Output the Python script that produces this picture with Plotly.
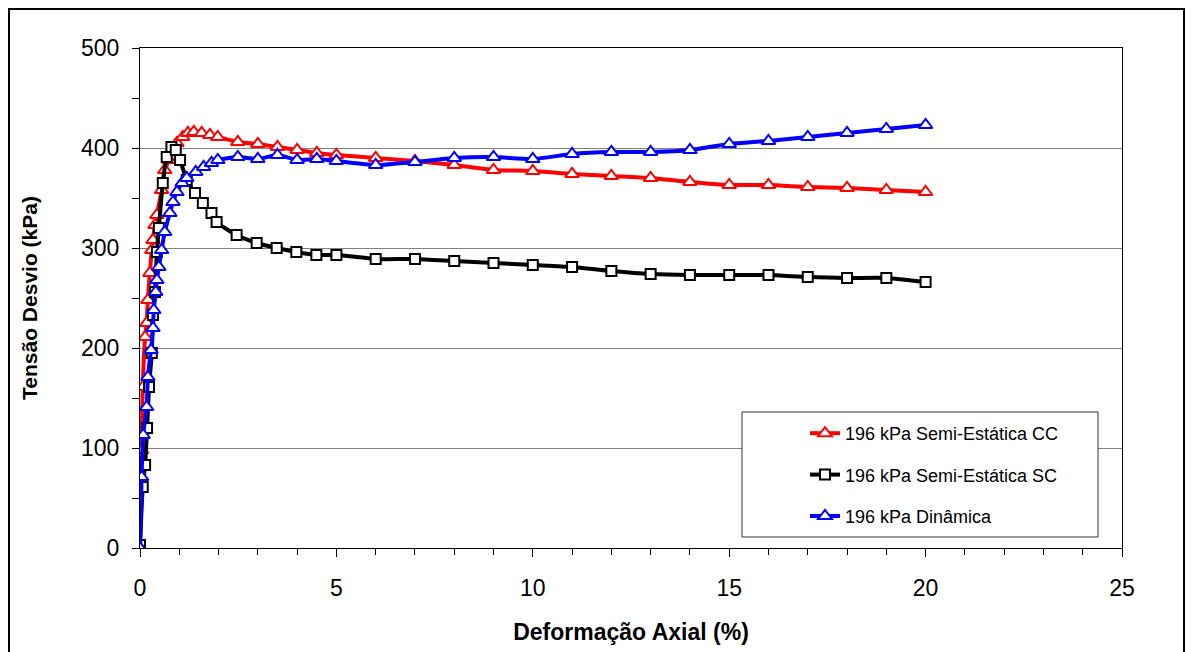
import plotly.graph_objects as go

# ---- data ----
cc_x = [0, 0.04, 0.07, 0.13, 0.17, 0.2, 0.25, 0.3, 0.33, 0.38, 0.43, 0.55, 0.63, 0.74, 0.84, 0.94,
        1.09, 1.22, 1.37, 1.57, 1.78, 1.98, 2.49, 3.0, 3.5, 4.0, 4.5, 5.0, 6, 7, 8, 9, 10, 11, 12,
        13, 14, 15, 16, 17, 18, 19, 20]
cc_y = [0, 98, 161, 211, 225, 248, 275, 298, 308, 323, 333, 358, 378, 388, 398, 405,
        411, 415, 416, 415, 413, 411, 406, 404, 401, 398, 395, 393, 390, 387, 383, 378, 377, 374, 372,
        370, 366, 363, 363, 361, 360, 358, 356]

sc_x = [0, 0.07, 0.13, 0.18, 0.23, 0.3, 0.33, 0.38, 0.43, 0.48, 0.58, 0.68, 0.8, 0.91, 1.02, 1.19,
        1.4, 1.6, 1.82, 1.95, 2.46, 2.97, 3.48, 3.98, 4.49, 5.0, 6, 7, 8, 9, 10, 11, 12, 13, 14,
        15, 16, 17, 18, 19, 20]
sc_y = [3, 61, 83, 120, 161, 195, 233, 256, 296, 320, 365, 391, 401, 398, 388, 368,
        355, 345, 335, 326, 313, 305, 300, 296, 293, 293, 289, 289, 287, 285, 283, 281, 277, 274, 273,
        273, 273, 271, 270, 270, 266]

din_x = [0, 0.04, 0.08, 0.17, 0.2, 0.28, 0.33, 0.35, 0.4, 0.43, 0.48, 0.55, 0.63, 0.76, 0.84, 0.94,
         1.07, 1.19, 1.42, 1.62, 1.82, 1.98, 2.49, 3.0, 3.5, 4.0, 4.5, 5.0, 6, 7, 8, 9, 10, 11, 12,
         13, 14, 15, 16, 17, 18, 19, 20]
din_y = [0, 71, 113, 141, 171, 198, 220, 238, 256, 268, 281, 298, 316, 335, 346, 356,
         365, 370, 376, 381, 385, 388, 391, 389, 393, 388, 389, 387, 383, 386, 390, 391, 389, 394, 396,
         396, 398, 404, 407, 411, 415, 419, 423]

names = ["196 kPa Semi-Estática CC", "196 kPa Semi-Estática SC", "196 kPa Dinâmica"]
x_ticks = [0, 5, 10, 15, 20, 25]
y_ticks = [0, 100, 200, 300, 400, 500]

FONT = "Liberation Sans, Arial, sans-serif"

fig = go.Figure()
series = [
    (cc_x, cc_y, names[0], "#ff0000", "triangle-up", 12),
    (sc_x, sc_y, names[1], "#000000", "square", 10),
    (din_x, din_y, names[2], "#0000ff", "triangle-up", 12),
]
for i, (xs, ys, nm, col, sym, sz) in enumerate(series):
    fig.add_trace(go.Scatter(
        x=xs, y=ys, name=nm, mode="lines+markers", legendgroup=f"g{i}",
        line=dict(color=col, width=4, shape="spline", smoothing=0.6),
        marker=dict(symbol=sym, size=sz, color="white", line=dict(color=col, width=2)),
    ))

W, H = 1191, 652
L, R, T, B = 140, 1122, 48, 548
pw, ph = R - L, B - T

def px(xp):
    return (xp - L) / pw

def py(yp):
    return (B - yp) / ph

fig.update_layout(
    width=W, height=H,
    margin=dict(l=L, r=W - R, t=T, b=H - B),
    paper_bgcolor="white", plot_bgcolor="white",
    font=dict(family=FONT, color="black", size=23),
    showlegend=True,
    legend=dict(
        x=px(805), y=py(415), xanchor="left", yanchor="top",
        bgcolor="rgba(0,0,0,0)", borderwidth=0,
        font=dict(family=FONT, size=18, color="black"),
        tracegroupgap=15,
    ),
    xaxis=dict(
        range=[0, 25], tickvals=x_ticks, ticktext=[str(v) for v in x_ticks],
        showgrid=False, zeroline=False,
        showline=True, linecolor="black", linewidth=1, mirror=True,
        ticks="outside", ticklen=8, tickcolor="black", tickwidth=1,
        minor=dict(dtick=1, ticks="outside", ticklen=6, tickcolor="black", showgrid=False),
        tickfont=dict(size=23, family=FONT),
        ticklabelstandoff=11,
        title=dict(text="<b>Deformação Axial (%)</b>", font=dict(size=23, family=FONT), standoff=24),
    ),
    yaxis=dict(
        range=[0, 500], tickvals=y_ticks, ticktext=[str(v) for v in y_ticks],
        showgrid=True, gridcolor="#808080", gridwidth=1, zeroline=False,
        showline=True, linecolor="black", linewidth=1, mirror=True,
        ticks="outside", ticklen=7, tickcolor="black", tickwidth=1,
        minor=dict(dtick=50, ticks="outside", ticklen=7, tickcolor="black", showgrid=False),
        tickfont=dict(size=23, family=FONT),
        ticklabelstandoff=8,
        title=dict(text="<b>Tensão Desvio (kPa)</b>", font=dict(size=21, family=FONT), standoff=37),
    ),
    shapes=[
        # outer chart frame
        dict(type="rect", xref="paper", yref="paper",
             x0=px(9), x1=px(1184), y0=py(660), y1=py(9),
             line=dict(color="black", width=2), fillcolor="rgba(0,0,0,0)", layer="above"),
        # legend box
        dict(type="rect", xref="paper", yref="paper",
             x0=px(742), x1=px(1098), y0=py(537), y1=py(412),
             line=dict(color="#333333", width=1), fillcolor="white", layer="above"),
    ],
)

fig.write_html("out.html")
